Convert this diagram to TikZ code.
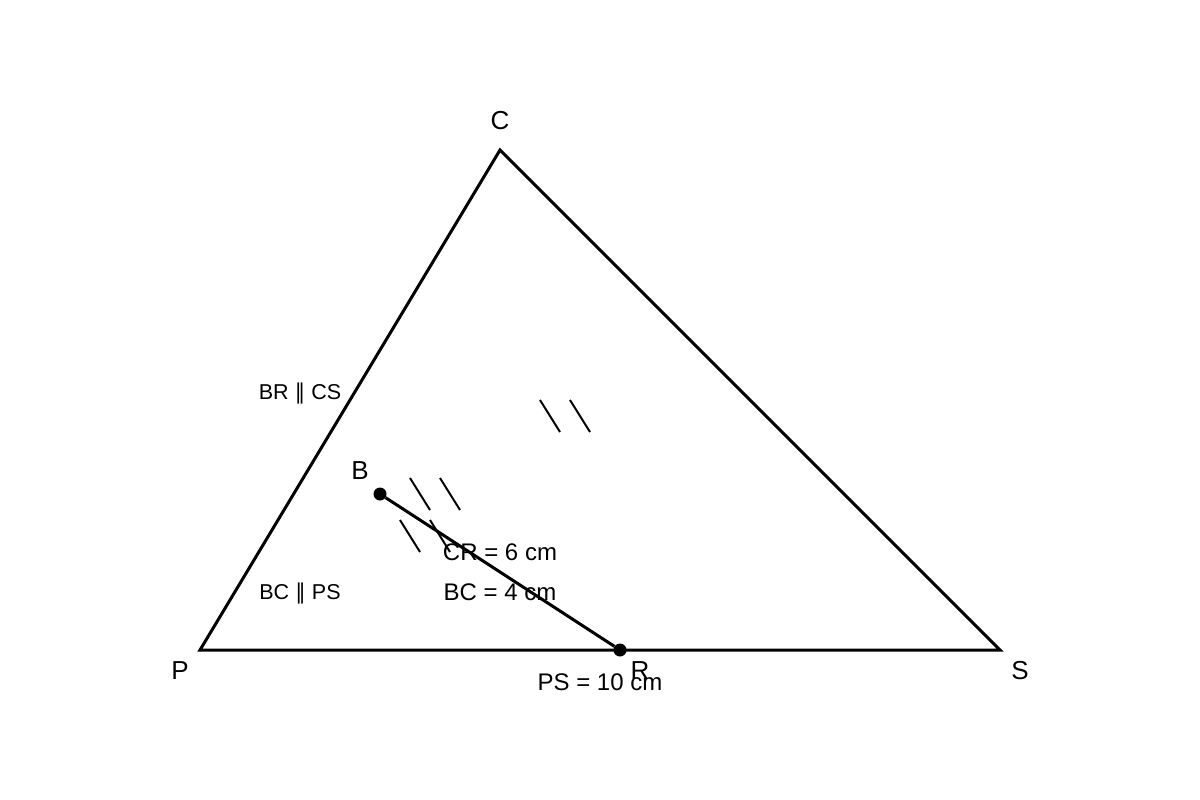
\documentclass[tikz,border=0pt]{standalone}
\usepackage{fontspec}
\setmainfont{Liberation Sans}
\newfontfamily\dejavu{DejaVu Sans}
\begin{document}
\begin{tikzpicture}[x=1pt,y=-1pt,
  edge/.style={line width=3pt,line join=miter},
  tick/.style={line width=2pt},
  dotpt/.style={circle,fill=black,inner sep=0pt,minimum size=13pt},
  vlabel/.style={font=\fontsize{26}{30}\selectfont},
  mlabel/.style={font=\fontsize{24}{28}\selectfont},
  plabel/.style={font=\fontsize{21.5}{26}\selectfont}]
\useasboundingbox (0,0) rectangle (1200,800);
\coordinate (P) at (200,650);
\coordinate (C) at (500,150);
\coordinate (S) at (1000,650);
\draw[edge] (P) -- (C) -- (S) -- cycle;
\node[dotpt] (B) at (380,494) {};
\node[dotpt] (R) at (620,650) {};
\draw[edge] (B) -- (R);
% ticks
\coordinate (t1a) at (540,400); \coordinate (t1b) at (560,432);
\coordinate (t2a) at (570,400); \coordinate (t2b) at (590,432);
\coordinate (t3a) at (410,478); \coordinate (t3b) at (430,510);
\coordinate (t4a) at (440,478); \coordinate (t4b) at (460,510);
\coordinate (t5a) at (400,520); \coordinate (t5b) at (420,552);
\coordinate (t6a) at (430,520); \coordinate (t6b) at (450,552);
\draw[tick] (t1a) -- (t1b); \draw[tick] (t2a) -- (t2b);
\draw[tick] (t3a) -- (t3b); \draw[tick] (t4a) -- (t4b);
\draw[tick] (t5a) -- (t5b); \draw[tick] (t6a) -- (t6b);
% labels
\node[vlabel] (lC) at (500,121) {C};
\node[vlabel] (lB) at (360,471) {B};
\node[vlabel] (lP) at (180,671) {P};
\node[vlabel] (lR) at (640,671) {R};
\node[vlabel] (lS) at (1020,671) {S};
\node[plabel] (p1) at (300,393.5) {BR {\dejavu ∥} CS};
\node[plabel] (p2) at (300,593.5) {BC {\dejavu ∥} PS};
\node[mlabel] (m1) at (500,552) {CR = 6 cm};
\node[mlabel] (m2) at (500,592) {BC = 4 cm};
\node[mlabel] (m3) at (600,682) {PS = 10 cm};
\end{tikzpicture}
\end{document}
